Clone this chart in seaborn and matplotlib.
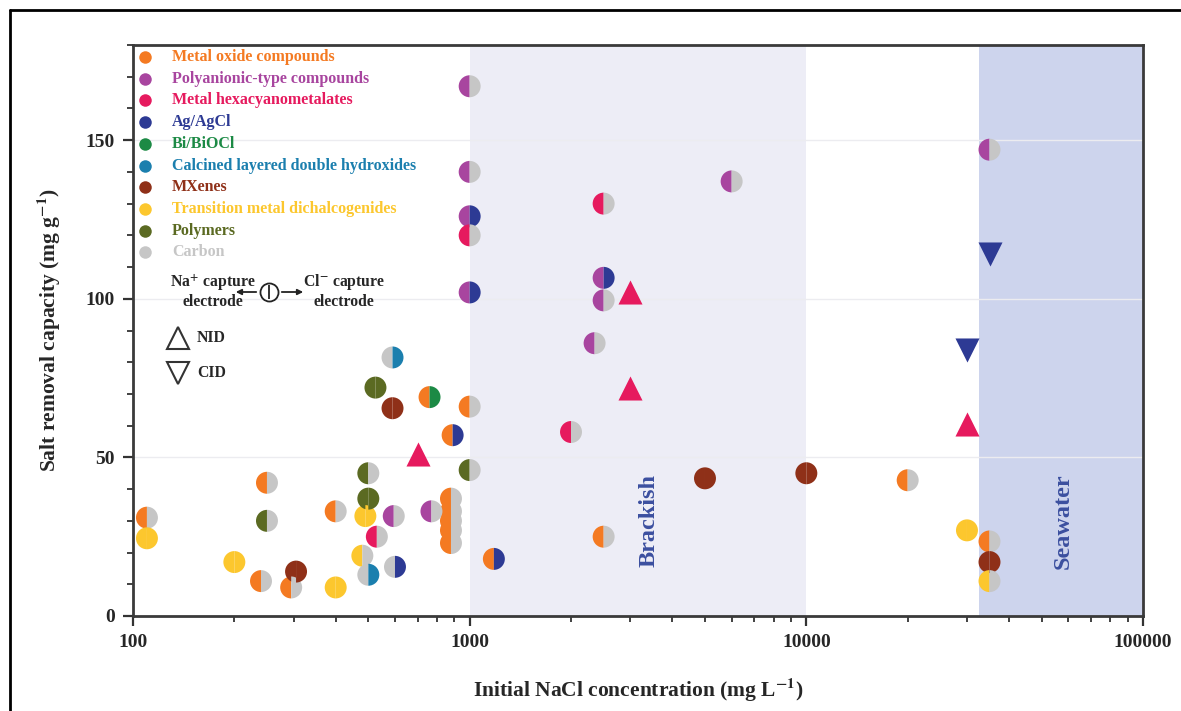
import matplotlib
matplotlib.use('Agg')
import matplotlib.pyplot as plt
from matplotlib.markers import MarkerStyle
from matplotlib.lines import Line2D
from matplotlib.ticker import FixedLocator, MultipleLocator, NullFormatter, LogLocator
import seaborn as sns
import pandas as pd

# legend order and colours
categories = ['Metal oxide compounds', 'Polyanionic-type compounds', 'Metal hexacyanometalates',
              'Ag/AgCl', 'Bi/BiOCl', 'Calcined layered double hydroxides', 'MXenes',
              'Transition metal dichalcogenides', 'Polymers', 'Carbon']
codes = ['MO', 'PA', 'HC', 'Ag', 'Bi', 'LDH', 'MX', 'TMD', 'P', 'C']
colors = ['#f47a22', '#a8459f', '#e61a5e', '#2d3a94', '#1c8a45', '#1b7fae', '#8f3018',
          '#fcc72e', '#5b6a22', '#c6c6c6']

# circles: concentration, capacity, Na+ side material, Cl- side material
conc = [110, 110, 200, 250, 250, 240, 295, 305, 400, 400,
        480, 490, 500, 500, 500, 530, 525, 590, 590, 595,
        600, 760, 770, 890, 880, 880, 880, 880, 880, 1000,
        1000, 1180, 1000, 1000, 1000, 1000, 1000, 2500, 2500, 2500,
        2350, 2000, 2500, 5000, 10000, 6000, 20000, 30000, 35000, 35000,
        35000, 35000]
cap = [31, 24.5, 17, 42, 30, 11, 9, 14, 33, 9,
       19, 31.5, 45, 37, 13, 25, 72, 81.5, 65.5, 31.5,
       15.5, 69, 33, 57, 37, 33, 30, 27, 23, 66,
       46, 18, 167, 140, 126, 120, 102, 130, 106.6, 99.5,
       86, 58, 25, 43.4, 45, 137, 42.8, 27, 147, 23.5,
       17, 11]
na_side = ['MO', 'TMD', 'TMD', 'MO', 'P', 'MO', 'MO', 'MX', 'MO', 'TMD',
           'TMD', 'TMD', 'P', 'P', 'C', 'HC', 'P', 'C', 'MX', 'PA',
           'C', 'MO', 'PA', 'MO', 'MO', 'MO', 'MO', 'MO', 'MO', 'MO',
           'P', 'MO', 'PA', 'PA', 'PA', 'HC', 'PA', 'HC', 'PA', 'PA',
           'PA', 'HC', 'MO', 'MX', 'MX', 'PA', 'MO', 'TMD', 'PA', 'MO',
           'MX', 'TMD']
cl_side = ['C', 'TMD', 'TMD', 'C', 'C', 'C', 'C', 'MX', 'C', 'TMD',
           'C', 'TMD', 'C', 'P', 'LDH', 'C', 'P', 'LDH', 'MX', 'C',
           'Ag', 'Bi', 'C', 'Ag', 'C', 'C', 'C', 'C', 'C', 'C',
           'C', 'Ag', 'C', 'C', 'Ag', 'C', 'Ag', 'C', 'Ag', 'C',
           'C', 'C', 'C', 'MX', 'MX', 'C', 'C', 'TMD', 'C', 'C',
           'MX', 'C']

# triangles
nid_conc = [700, 3000, 3000, 30000]
nid_cap = [51, 102, 72, 60.5]
cid_conc = [35000, 30000]
cid_cap = [114, 84]

palette = dict(zip(codes, colors))
df = pd.DataFrame({'conc': conc, 'cap': cap, 'na': na_side, 'cl': cl_side})

sns.set_style('ticks')
plt.rcParams['font.family'] = ['Liberation Serif', 'DejaVu Serif']
plt.rcParams['font.weight'] = 'bold'
plt.rcParams['mathtext.fontset'] = 'stix'

W, H = 1181, 711
fig = plt.figure(figsize=(W / 100, H / 100), dpi=100)
ax = fig.add_axes([133 / W, 95 / H, 1010 / W, 571 / H])
ax.set_xscale('log')
ax.set_xlim(100, 100000)
ax.set_ylim(0, 180)

ax.axvspan(1000, 10000, color='#ededf6', zorder=0, lw=0)
ax.axvspan(32600, 100000, color='#cdd4ed', zorder=0, lw=0)
for yv in [50, 100, 150]:
    ax.axhline(yv, color='#ececf0', lw=1.0, zorder=0.5)

left = MarkerStyle('o', fillstyle='left')
right = MarkerStyle('o', fillstyle='right')
sns.scatterplot(data=df, x='conc', y='cap', hue='na', palette=palette, marker=left,
                s=250, linewidth=0, legend=False, ax=ax, zorder=3)
sns.scatterplot(data=df, x='conc', y='cap', hue='cl', palette=palette, marker=right,
                s=250, linewidth=0, legend=False, ax=ax, zorder=3)
sns.scatterplot(x=nid_conc, y=nid_cap, marker='^', color=palette['HC'], s=300,
                linewidth=0, legend=False, ax=ax, zorder=3)
sns.scatterplot(x=cid_conc, y=cid_cap, marker='v', color=palette['Ag'], s=300,
                linewidth=0, legend=False, ax=ax, zorder=3)

# axes styling
ax.xaxis.set_major_locator(FixedLocator([100, 1000, 10000, 100000]))
ax.set_xticklabels(['100', '1000', '10000', '100000'])
ax.xaxis.set_minor_locator(LogLocator(base=10, subs=range(2, 10)))
ax.xaxis.set_minor_formatter(NullFormatter())
ax.set_yticks([0, 50, 100, 150])
ax.yaxis.set_minor_locator(MultipleLocator(10))
ax.tick_params(which='major', direction='out', length=7, width=1.6, color='#333333',
               labelsize=14, pad=6)
ax.tick_params(which='minor', direction='out', length=4, width=1.3, color='#333333')
for sp in ax.spines.values():
    sp.set_visible(True)
    sp.set_linewidth(2)
    sp.set_color('#3a3a3a')
ax.set_xlabel(r'Initial NaCl concentration (mg L$^{\mathbf{-1}}$)', fontsize=15.5,
              fontweight='bold', labelpad=18)
ax.set_ylabel(r'Salt removal capacity (mg g$^{\mathbf{-1}}$)', fontsize=15.5,
              fontweight='bold', labelpad=16)

# region labels
ax.text(3400, 30, 'Brackish', rotation=90, ha='center', va='center', fontsize=17.5,
        color='#3b4f9f', fontweight='bold')
ax.text(58000, 30, 'Seawater', rotation=90, ha='center', va='center', fontsize=17.5,
        color='#3b4f9f', fontweight='bold')


def ax_xy(px, py):
    return (px - 133) / 1010, (616 - py) / 571


# legend
for i, (name, col) in enumerate(zip(categories, colors)):
    py = 57 + 21.7 * i
    ax.plot(*ax_xy(145, py), 'o', ms=9, color=col, mec='none', transform=ax.transAxes,
            clip_on=False, zorder=4)
    ax.text(*ax_xy(172, py), name, color=col, fontsize=11.5, fontweight='bold',
            va='center', ha='left', transform=ax.transAxes)

# electrode explanation
for cx, top in [(213, 'Na$^{+}$ capture'), (344, 'Cl$^{-}$ capture')]:
    ax.text(*ax_xy(cx, 282), top, fontsize=11.3, fontweight='bold', ha='center',
            va='center', transform=ax.transAxes)
    ax.text(*ax_xy(cx, 302), 'electrode', fontsize=11.3, fontweight='bold', ha='center',
            va='center', transform=ax.transAxes)
ax.plot(*ax_xy(269, 292), 'o', ms=13, mfc='white', mec='#222222', mew=1.3,
        transform=ax.transAxes, zorder=4)
ax.plot(*ax_xy(269, 292), '|', ms=10, mec='#222222', mew=1.3, transform=ax.transAxes,
        zorder=5)
ax.annotate('', xy=ax_xy(233, 292), xytext=ax_xy(259, 292), xycoords='axes fraction',
            arrowprops=dict(arrowstyle='-|>', color='#222222', lw=1.3, mutation_scale=8))
ax.annotate('', xy=ax_xy(306, 292), xytext=ax_xy(279, 292), xycoords='axes fraction',
            arrowprops=dict(arrowstyle='-|>', color='#222222', lw=1.3, mutation_scale=8))

for py, mk, lab in [(338, '^', 'NID'), (373, 'v', 'CID')]:
    ax.plot(*ax_xy(178, py), mk, ms=16, mfc='none', mec='#333333', mew=1.5,
            transform=ax.transAxes)
    ax.text(*ax_xy(197, py), lab, fontsize=11.3, fontweight='bold', ha='left', va='center',
            transform=ax.transAxes)

# outer frame lines
fig.add_artist(Line2D([10 / W, 10 / W], [0, 1 - 10 / H], color='black', lw=2))
fig.add_artist(Line2D([10 / W, 1], [1 - 10 / H, 1 - 10 / H], color='black', lw=2))

fig.savefig('out.png', dpi=100)
